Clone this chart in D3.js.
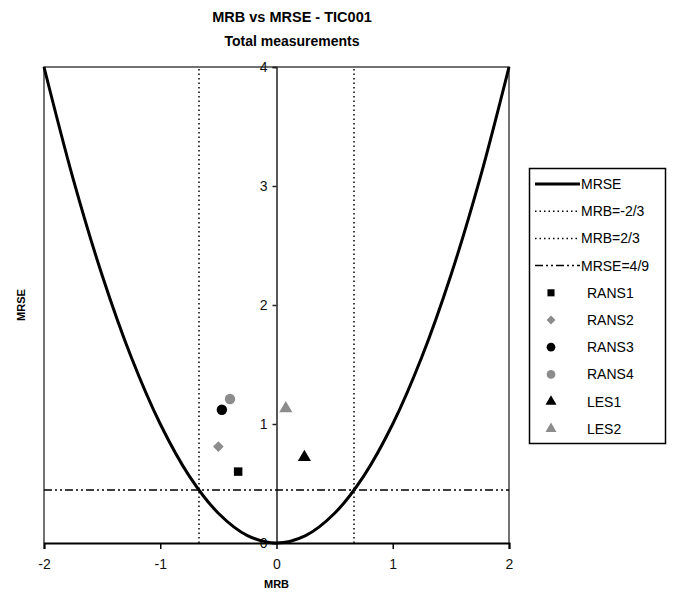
<!DOCTYPE html>
<html>
<head>
<meta charset="utf-8">
<script src="https://d3js.org/d3.v7.min.js"></script>
<style>
  body { margin: 0; background: #fff; }
  svg { display: block; font-family: "Liberation Sans", Arial, sans-serif; }
</style>
</head>
<body>
<svg width="673" height="597"></svg>
<script>
// MRSE curve (MRSE = MRB^2)
const curveMrb = [-2, -1.75, -1.5, -1.25, -1, -0.75, -0.5, -0.25, 0, 0.25, 0.5, 0.75, 1, 1.25, 1.5, 1.75, 2];
const curveMrse = [4, 3.0625, 2.25, 1.5625, 1, 0.5625, 0.25, 0.0625, 0, 0.0625, 0.25, 0.5625, 1, 1.5625, 2.25, 3.0625, 4];

// reference lines
const mrbLimits = [-2 / 3, 2 / 3];
const mrseLimit = 4 / 9;

// model points
const modelNames = ["RANS1", "RANS2", "RANS3", "RANS4", "LES1", "LES2"];
const modelMrb = [-0.33, -0.50, -0.47, -0.40, 0.24, 0.08];
const modelMrse = [0.60, 0.81, 1.12, 1.21, 0.72, 1.13];
const modelShapes = ["square", "diamond", "circle", "circle", "triangle", "triangle"];
const modelColors = ["#000", "#8c8c8c", "#000", "#8c8c8c", "#000", "#8c8c8c"];

const xTicks = [-2, -1, 0, 1, 2];
const yTicks = [0, 1, 2, 3, 4];

const svg = d3.select("svg");
const margin = { left: 44, right: 509, top: 67, bottom: 543 };

const x = d3.scaleLinear().domain([-2, 2]).range([margin.left, margin.right]);
const y = d3.scaleLinear().domain([0, 4]).range([margin.bottom, margin.top]);
const fmt = d => String(d); // plain hyphen minus, as in the original

// title
svg.append("text").attr("x", 292).attr("y", 22).attr("text-anchor", "middle")
  .attr("font-weight", "bold").attr("font-size", 14.5).text("MRB vs MRSE - TIC001");
svg.append("text").attr("x", 292).attr("y", 46).attr("text-anchor", "middle")
  .attr("font-weight", "bold").attr("font-size", 14).text("Total measurements");

// frame: left, top, right
svg.append("path")
  .attr("d", `M${x(-2)},${y(0)}V${y(4)}H${x(2)}V${y(0)}`)
  .attr("fill", "none").attr("stroke", "#444").attr("stroke-width", 1.5);

// x axis
const xAxis = svg.append("g").attr("transform", `translate(0,${y(0)})`)
  .call(d3.axisBottom(x).tickValues(xTicks).tickSize(6).tickPadding(10).tickFormat(fmt));
xAxis.select(".domain").attr("stroke", "#000").attr("stroke-width", 2);
xAxis.selectAll(".tick line").attr("stroke", "#000").attr("stroke-width", 1.5);
xAxis.selectAll("text").attr("font-size", 14).attr("fill", "#111")
  .attr("font-family", "Liberation Sans, Arial, sans-serif");

// y axis at MRB = 0
const yAxis = svg.append("g").attr("transform", `translate(${x(0)},0)`)
  .call(d3.axisLeft(y).tickValues(yTicks).tickSizeOuter(0).tickSize(4).tickPadding(5).tickFormat(fmt));
yAxis.select(".domain").attr("stroke", "#222").attr("stroke-width", 1.5);
yAxis.selectAll(".tick line").attr("stroke", "#222").attr("stroke-width", 1.5);
yAxis.selectAll("text").attr("font-size", 14).attr("fill", "#111")
  .attr("font-family", "Liberation Sans, Arial, sans-serif");

// axis titles
svg.append("text").attr("x", x(0)).attr("y", 588).attr("text-anchor", "middle")
  .attr("font-weight", "bold").attr("font-size", 11).text("MRB");
svg.append("text").attr("transform", `translate(25,${(y(0) + y(4)) / 2}) rotate(-90)`)
  .attr("text-anchor", "middle").attr("font-weight", "bold").attr("font-size", 11).text("MRSE");

// MRB limits (dotted verticals)
svg.append("g").selectAll("line").data(mrbLimits).join("line")
  .attr("x1", d => x(d)).attr("x2", d => x(d)).attr("y1", y(0)).attr("y2", y(4))
  .attr("stroke", "#000").attr("stroke-width", 1.5).attr("stroke-dasharray", "1.5,3");

// MRSE limit (dash-dot horizontal)
svg.append("line")
  .attr("x1", x(-2)).attr("x2", x(2)).attr("y1", y(mrseLimit)).attr("y2", y(mrseLimit))
  .attr("stroke", "#000").attr("stroke-width", 1.5).attr("stroke-dasharray", "8,3,2,3,2,3");

// MRSE curve
const curveData = curveMrb.map((d, i) => [d, curveMrse[i]]);
svg.append("path").datum(curveData)
  .attr("d", d3.line().x(d => x(d[0])).y(d => y(d[1])).curve(d3.curveCatmullRom))
  .attr("fill", "none").attr("stroke", "#000").attr("stroke-width", 3);

// symbols (diamond = rotated square, as in Excel)
const symbolTypes = {
  square: d3.symbolSquare,
  diamond: d3.symbolSquare,
  circle: d3.symbolCircle,
  triangle: d3.symbolTriangle
};
const symbolPath = (s, k) => d3.symbol().type(symbolTypes[s])
  .size(k * { square: 72, diamond: 56, circle: 85, triangle: 75 }[s])();
const symbolRot = s => (s === "diamond" ? " rotate(45)" : "");

svg.append("g").selectAll("path").data(modelNames).join("path")
  .attr("transform", (d, i) => `translate(${x(modelMrb[i])},${y(modelMrse[i])})${symbolRot(modelShapes[i])}`)
  .attr("d", (d, i) => symbolPath(modelShapes[i], 1))
  .attr("fill", (d, i) => modelColors[i]);

// legend
const legend = svg.append("g");
legend.append("rect").attr("x", 529.5).attr("y", 168.5).attr("width", 136).attr("height", 275)
  .attr("fill", "#fff").attr("stroke", "#000").attr("stroke-width", 1.5);

const legendItems = [
  { label: "MRSE", kind: "line", dash: null, width: 3 },
  { label: "MRB=-2/3", kind: "line", dash: "1.5,3", width: 1.5 },
  { label: "MRB=2/3", kind: "line", dash: "1.5,3", width: 1.5 },
  { label: "MRSE=4/9", kind: "line", dash: "8,3,2,3,2,3", width: 1.5 }
].concat(modelNames.map((n, i) => ({ label: n, kind: "symbol", shape: modelShapes[i], color: modelColors[i] })));

const rowY = i => 184 + i * 27.2;
legendItems.forEach((item, i) => {
  const g = legend.append("g").attr("transform", `translate(0,${rowY(i)})`);
  if (item.kind === "line") {
    g.append("line").attr("x1", 535).attr("x2", 580).attr("y1", 0).attr("y2", 0)
      .attr("stroke", "#000").attr("stroke-width", item.width)
      .attr("stroke-dasharray", item.dash);
    g.append("text").attr("x", 581).attr("y", 0).attr("dy", "0.35em")
      .attr("font-size", 14).text(item.label);
  } else {
    g.append("path").attr("transform", `translate(551,0)${symbolRot(item.shape)}`)
      .attr("d", symbolPath(item.shape, 0.7)).attr("fill", item.color);
    g.append("text").attr("x", 587).attr("y", 0).attr("dy", "0.35em")
      .attr("font-size", 14).text(item.label);
  }
});
</script>
</body>
</html>
